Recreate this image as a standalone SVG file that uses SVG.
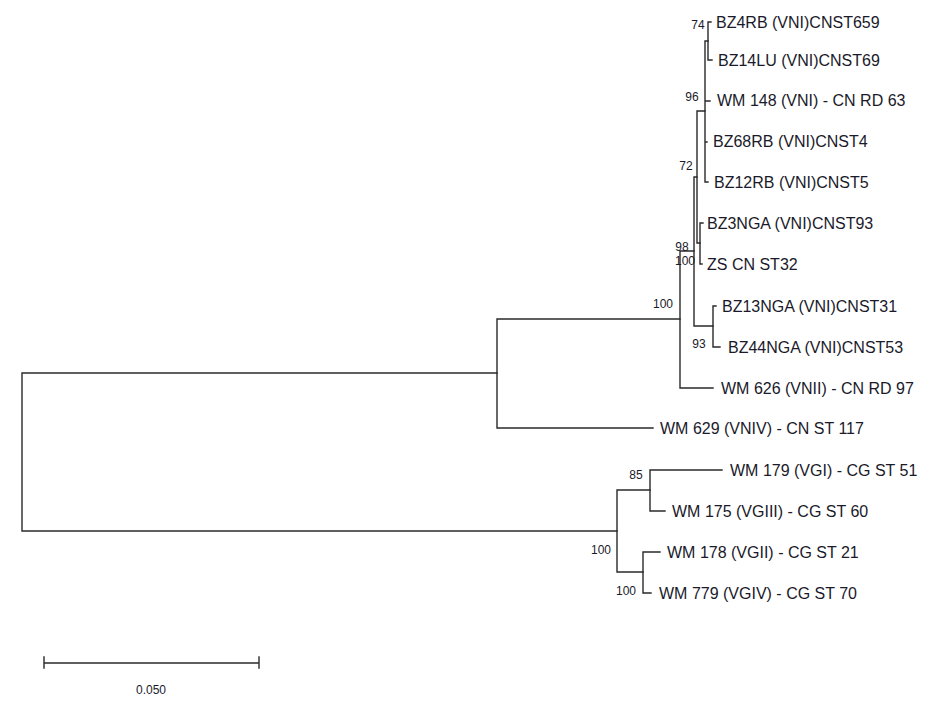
<svg xmlns="http://www.w3.org/2000/svg" width="942" height="708" viewBox="0 0 942 708">
<style>
.br{fill:none;stroke:#2a2a2a;stroke-width:1.4;stroke-linecap:square}
.lf{font-family:"Liberation Sans",Arial,sans-serif;font-size:16px;fill:#1a1a2a}
.bs{font-family:"Liberation Sans",Arial,sans-serif;font-size:12px;fill:#1a1a2a;text-anchor:middle}
</style>
<rect width="942" height="708" fill="#fff"/>
<g id="connectors" class="br">
<path d="M22,373V531M22,373H497M22,531H617"/>
<path d="M497,319V428M497,319H680M497,428H653"/>
<path d="M680,251V388M680,251H694M680,388H713"/>
<path d="M694,177V326M694,177H697M694,326H713"/>
<path d="M713,306V347M713,306H716M713,347H720"/>
<path d="M697,111V243M697,111H705M697,243H700"/>
<path d="M700,223V264M700,223H703M700,264H702"/>
<path d="M705,41V182M705,41H708M705,101H710M705,142H707M705,182H708"/>
<path d="M708,22V60M708,22H711M708,60H712"/>
<path d="M617,490V572M617,490H650M617,572H643"/>
<path d="M650,470V511M650,470H722M650,511H665"/>
<path d="M643,552V593M643,552H660M643,593H651"/>
</g>
<g id="leaf-BZ4RB"><text class="lf" x="716" y="28">BZ4RB (VNI)CNST659</text></g>
<g id="leaf-BZ14LU"><text class="lf" x="718" y="66">BZ14LU (VNI)CNST69</text></g>
<g id="leaf-WM148"><text class="lf" x="717" y="106">WM 148 (VNI) - CN RD 63</text></g>
<g id="leaf-BZ68RB"><text class="lf" x="713" y="147">BZ68RB (VNI)CNST4</text></g>
<g id="leaf-BZ12RB"><text class="lf" x="714" y="188">BZ12RB (VNI)CNST5</text></g>
<g id="leaf-BZ3NGA"><text class="lf" x="707" y="229">BZ3NGA (VNI)CNST93</text></g>
<g id="leaf-ZS"><text class="lf" x="707" y="270">ZS CN ST32</text></g>
<g id="leaf-BZ13NGA"><text class="lf" x="722" y="312">BZ13NGA (VNI)CNST31</text></g>
<g id="leaf-BZ44NGA"><text class="lf" x="728" y="353">BZ44NGA (VNI)CNST53</text></g>
<g id="leaf-WM626"><text class="lf" x="721" y="394">WM 626 (VNII) - CN RD 97</text></g>
<g id="leaf-WM629"><text class="lf" x="660" y="434">WM 629 (VNIV) - CN ST 117</text></g>
<g id="leaf-WM179"><text class="lf" x="730" y="476">WM 179 (VGI) - CG ST 51</text></g>
<g id="leaf-WM175"><text class="lf" x="672" y="517">WM 175 (VGIII) - CG ST 60</text></g>
<g id="leaf-WM178"><text class="lf" x="667" y="558">WM 178 (VGII) - CG ST 21</text></g>
<g id="leaf-WM779"><text class="lf" x="659" y="599">WM 779 (VGIV) - CG ST 70</text></g>
<g id="bootstrap">
<text class="bs" x="698" y="29">74</text>
<text class="bs" x="692" y="101">96</text>
<text class="bs" x="686" y="170">72</text>
<text class="bs" x="682" y="251">98</text>
<text class="bs" x="685" y="265">100</text>
<text class="bs" x="663" y="308">100</text>
<text class="bs" x="699" y="348">93</text>
<text class="bs" x="636" y="479">85</text>
<text class="bs" x="601" y="554">100</text>
<text class="bs" x="626" y="595">100</text>
</g>
<g id="scalebar">
<path class="br" d="M44,663H259M44,657V668M259,657V668"/>
<text class="bs" x="151" y="694">0.050</text>
</g>
</svg>
